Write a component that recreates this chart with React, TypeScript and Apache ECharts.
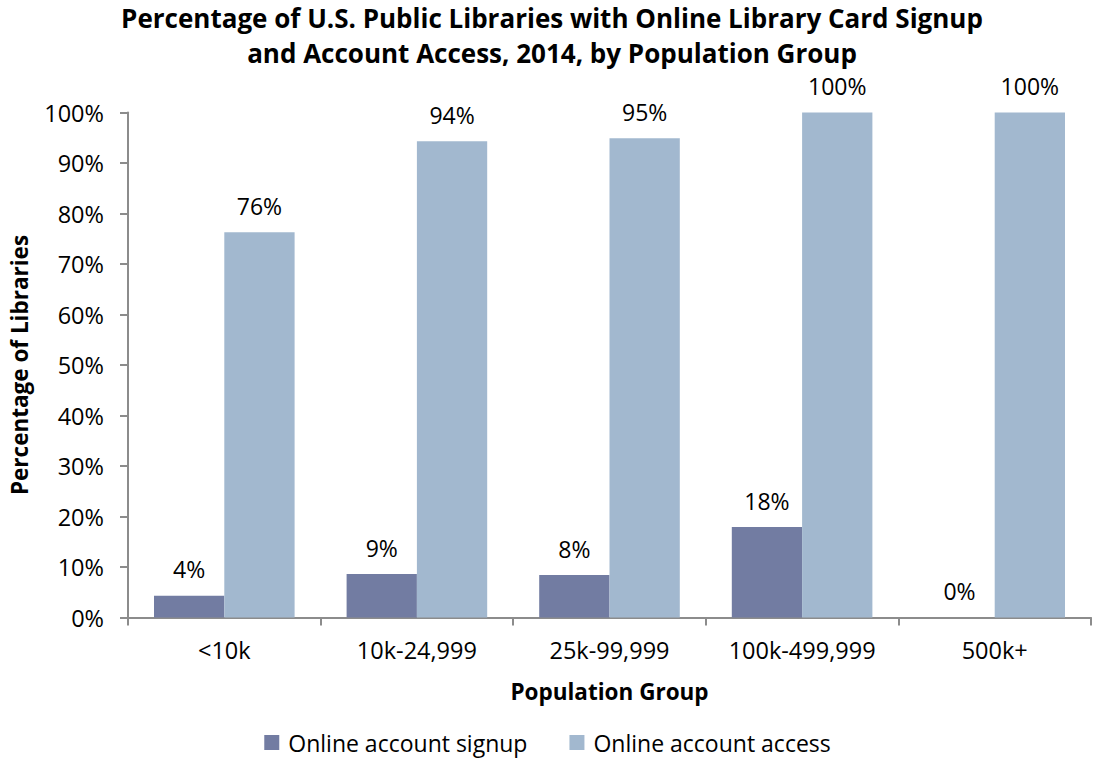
import React, { useEffect, useRef } from "react";
import * as echarts from "echarts";

const categories = ["<10k", "10k-24,999", "25k-99,999", "100k-499,999", "500k+"];
const signupValues = [4.3, 8.6, 8.4, 17.9, 0];
const accessValues = [76.3, 94.3, 94.9, 100, 100];
const seriesNames = ["Online account signup", "Online account access"];
const titleLines = [
  "Percentage of U.S. Public Libraries with Online Library Card Signup",
  "and Account Access, 2014, by Population Group",
];

const FONT = "'Open Sans', sans-serif";

export default function App() {
  const ref = useRef<HTMLDivElement>(null);
  useEffect(() => {
    if (!ref.current) return;
    const chart = echarts.init(ref.current, null, { renderer: "svg" });
    const labelCfg = {
      show: true,
      position: "top" as const,
      distance: 15,
      color: "#000",
      fontFamily: FONT,
      fontSize: 23,
      formatter: (p: any) => Math.round(p.value) + "%",
    };
    chart.setOption({
      animation: false,
      backgroundColor: "#fff",
      title: titleLines.map((t, i) => ({
        text: t,
        left: 552,
        textAlign: "center",
        top: 3 + i * 35,
        padding: 0,
        textStyle: {
          fontFamily: FONT,
          fontWeight: "bold",
          fontSize: 26,
          lineHeight: 30,
          color: "#000",
        },
      })),
      legend: {
        bottom: 8,
        left: "center",
        padding: 0,
        itemWidth: 15,
        itemHeight: 15,
        itemGap: 42,
        icon: "rect",
        textStyle: { fontFamily: FONT, fontSize: 23, color: "#000", padding: [0, 0, 0, 4] },
        data: seriesNames,
      },
      grid: { left: 123, right: 4, top: 112.5, bottom: 144.5, containLabel: false },
      xAxis: {
        type: "category",
        data: categories,
        name: "Population Group",
        nameLocation: "middle",
        nameGap: 62,
        nameTextStyle: { fontFamily: FONT, fontWeight: "bold", fontSize: 22.5, color: "#000" },
        axisLine: { lineStyle: { color: "#8c8c8c", width: 2 } },
        axisTick: { show: true, length: 8, lineStyle: { color: "#8c8c8c", width: 2 } },
        axisLabel: { fontFamily: FONT, fontSize: 23.5, color: "#000", margin: 20 },
      },
      yAxis: {
        type: "value",
        min: 0,
        max: 100,
        interval: 10,
        name: "Percentage of Libraries",
        nameLocation: "middle",
        nameGap: 97,
        nameTextStyle: { fontFamily: FONT, fontWeight: "bold", fontSize: 22.5, color: "#000" },
        axisLine: { show: true, lineStyle: { color: "#8c8c8c", width: 2 } },
        axisTick: { show: true, length: 8, lineStyle: { color: "#8c8c8c", width: 2 } },
        splitLine: { show: false },
        axisLabel: {
          fontFamily: FONT,
          fontSize: 23.5,
          color: "#000",
          margin: 24,
          formatter: (v: number) => v + "%",
        },
      },
      series: [
        {
          name: seriesNames[0],
          type: "bar",
          data: signupValues,
          barGap: "0%",
          barCategoryGap: "27%",
          itemStyle: { color: "#727ca2" },
          label: labelCfg,
        },
        {
          name: seriesNames[1],
          type: "bar",
          data: accessValues,
          barGap: "0%",
          barCategoryGap: "27%",
          itemStyle: { color: "#a2b8cf" },
          label: labelCfg,
        },
      ],
    });
    return () => chart.dispose();
  }, []);
  return <div ref={ref} style={{ width: 1095, height: 762, position: "absolute", left: 0, top: 0 }} />;
}
